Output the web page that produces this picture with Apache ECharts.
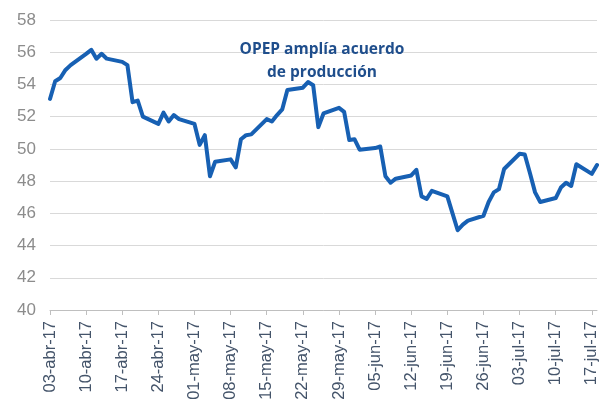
<!DOCTYPE html>
<html>
<head>
<meta charset="utf-8">
<script src="https://cdn.jsdelivr.net/npm/echarts@6/dist/echarts.min.js"></script>
<style>html,body{margin:0;padding:0;background:#fff}#c{width:602px;height:408px}</style>
</head>
<body>
<div id="c"></div>
<script>
const dates = [
  "2017-04-03","2017-04-04","2017-04-05","2017-04-06","2017-04-07",
  "2017-04-10","2017-04-11","2017-04-12","2017-04-13","2017-04-14",
  "2017-04-17","2017-04-18","2017-04-19","2017-04-20","2017-04-21",
  "2017-04-24","2017-04-25","2017-04-26","2017-04-27","2017-04-28",
  "2017-05-01","2017-05-02","2017-05-03","2017-05-04","2017-05-05",
  "2017-05-08","2017-05-09","2017-05-10","2017-05-11","2017-05-12",
  "2017-05-15","2017-05-16","2017-05-17","2017-05-18","2017-05-19",
  "2017-05-22","2017-05-23","2017-05-24","2017-05-25","2017-05-26",
  "2017-05-29","2017-05-30","2017-05-31","2017-06-01","2017-06-02",
  "2017-06-05","2017-06-06","2017-06-07","2017-06-08","2017-06-09",
  "2017-06-12","2017-06-13","2017-06-14","2017-06-15","2017-06-16",
  "2017-06-19","2017-06-20","2017-06-21","2017-06-22","2017-06-23",
  "2017-06-26","2017-06-27","2017-06-28","2017-06-29","2017-06-30",
  "2017-07-03","2017-07-04","2017-07-05","2017-07-06","2017-07-07",
  "2017-07-10","2017-07-11","2017-07-12","2017-07-13","2017-07-14",
  "2017-07-17","2017-07-18"
];
const prices = [
  53.1, 54.2, 54.4, 54.9, 55.2,
  55.9, 56.15, 55.6, 55.9, 55.6,
  55.4, 55.2, 52.9, 53.0, 52.0,
  51.55, 52.25, 51.7, 52.1, 51.85,
  51.55, 50.25, 50.85, 48.3, 49.2,
  49.35, 48.85, 50.6, 50.85, 50.9,
  51.85, 51.7, 52.1, 52.45, 53.65,
  53.8, 54.15, 53.95, 51.35, 52.2,
  52.55, 52.3, 50.55, 50.6, 49.95,
  50.05, 50.15, 48.3, 47.9, 48.15,
  48.35, 48.7, 47.05, 46.9, 47.4,
  47.05, 46.0, 44.95, 45.3, 45.55,
  45.85, 46.7, 47.3, 47.5, 48.75,
  49.7, 49.65, 48.5, 47.3, 46.7,
  46.95, 47.6, 47.9, 47.7, 49.05,
  48.45, 49.0
];
const tickLabels = [
  "03-abr-17","10-abr-17","17-abr-17","24-abr-17","01-may-17","08-may-17",
  "15-may-17","22-may-17","29-may-17","05-jun-17","12-jun-17","19-jun-17",
  "26-jun-17","03-jul-17","10-jul-17","17-jul-17"
];
const yTicks = [40, 42, 44, 46, 48, 50, 52, 54, 56, 58];
const annotation = ["OPEP amplía acuerdo", "de producción"];

const startDate = "2017-04-03";
const endDate = "2017-07-18";
const DAY = 86400000;
const dayIndex = d => Math.round((Date.parse(d) - Date.parse(startDate)) / DAY);
const lastDay = dayIndex(endDate);
const tickValues = tickLabels.map((_, i) => i * 7);
const seriesData = dates.map((d, i) => [dayIndex(d), prices[i]]);

const chart = echarts.init(document.getElementById('c'), null, {renderer: 'canvas'});
chart.setOption({
  animation: false,
  backgroundColor: '#ffffff',
  grid: {left: 50, right: 5, top: 20, bottom: 98, containLabel: false},
  xAxis: {
    type: 'value',
    min: 0,
    max: lastDay,
    interval: 7,
    splitLine: {show: false},
    axisLine: {show: true, lineStyle: {color: '#bfbfbf', width: 1}},
    axisTick: {show: true, length: 5, lineStyle: {color: '#bfbfbf'}, customValues: tickValues},
    axisLabel: {
      customValues: tickValues,
      rotate: 90,
      margin: 11,
      color: '#44546a',
      fontFamily: 'Liberation Sans, Arial, sans-serif',
      fontSize: 16.5,
      formatter: v => tickLabels[Math.round(v / 7)] || ''
    }
  },
  yAxis: {
    type: 'value',
    min: yTicks[0],
    max: yTicks[yTicks.length - 1],
    interval: 2,
    axisLine: {show: false},
    axisTick: {show: false},
    splitLine: {show: true, lineStyle: {color: '#d9d9d9', width: 1}},
    axisLabel: {
      margin: 14,
      color: '#8c8c8c',
      fontFamily: 'Liberation Sans, Arial, sans-serif',
      fontSize: 17
    }
  },
  series: [{
    type: 'line',
    data: seriesData,
    showSymbol: false,
    symbol: 'none',
    lineStyle: {color: '#1760b3', width: 4, join: 'round', cap: 'round'},
    z: 3
  }],
  graphic: [
    {type: 'text', x: 322, y: 50, z: 10,
     style: {text: annotation[0], textAlign: 'center', textVerticalAlign: 'middle',
             fill: '#1f4e8c', font: 'bold 15.5px "Open Sans", sans-serif'}},
    {type: 'text', x: 322, y: 73, z: 10,
     style: {text: annotation[1], textAlign: 'center', textVerticalAlign: 'middle',
             fill: '#1f4e8c', font: 'bold 15.5px "Open Sans", sans-serif'}}
  ]
});
</script>
</body>
</html>
